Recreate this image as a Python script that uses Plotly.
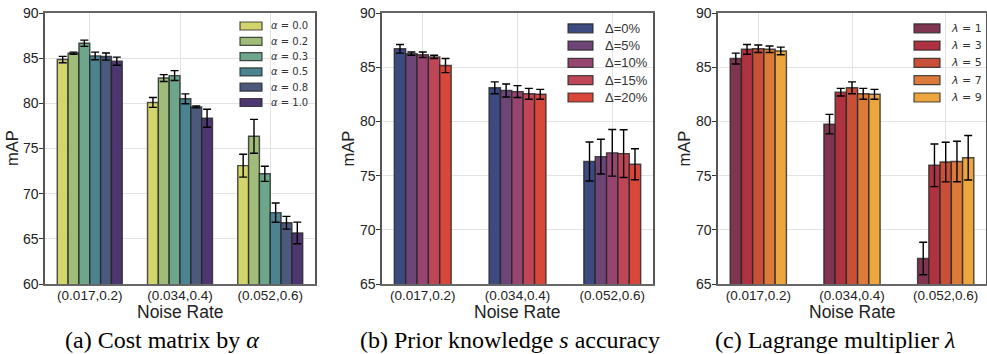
import plotly.graph_objects as go

# ---------------- data ----------------
categories = ["(0.017,0.2)", "(0.034,0.4)", "(0.052,0.6)"]

alpha_labels = ["0.0", "0.2", "0.3", "0.5", "0.8", "1.0"]
alpha_means = [
    [84.85, 80.1, 73.1],
    [85.55, 82.8, 76.35],
    [86.65, 83.07, 72.2],
    [85.25, 80.5, 67.9],
    [85.18, 79.6, 66.78],
    [84.67, 78.35, 65.65],
]
alpha_errs = [
    [0.35, 0.55, 1.27],
    [0.12, 0.38, 1.87],
    [0.35, 0.55, 0.84],
    [0.42, 0.55, 1.06],
    [0.4, 0.1, 0.71],
    [0.45, 1.0, 1.2],
]
alpha_colors = ["#d2d46c", "#9fbd78", "#6da68a", "#4b8391", "#4b5a7c", "#4e3670"]

delta_labels = ["0%", "5%", "10%", "15%", "20%"]
delta_means = [
    [86.7, 83.1, 76.3],
    [86.25, 82.85, 76.75],
    [86.15, 82.75, 77.1],
    [85.95, 82.55, 77.03],
    [85.15, 82.5, 76.05],
]
delta_errs = [
    [0.4, 0.55, 1.8],
    [0.15, 0.6, 1.6],
    [0.25, 0.55, 2.15],
    [0.15, 0.5, 2.2],
    [0.65, 0.45, 1.43],
]
delta_colors = ["#3d4a80", "#6d4677", "#964470", "#bf4656", "#d9473a"]

lambda_labels = ["1", "3", "5", "7", "9"]
lambda_means = [
    [85.8, 79.75, 67.35],
    [86.65, 82.7, 75.95],
    [86.7, 83.1, 76.25],
    [86.65, 82.55, 76.3],
    [86.5, 82.5, 76.65],
]
lambda_errs = [
    [0.5, 0.9, 1.5],
    [0.45, 0.35, 1.97],
    [0.35, 0.55, 1.83],
    [0.3, 0.5, 1.87],
    [0.35, 0.45, 2.05],
]
lambda_colors = ["#7f3550", "#ae3240", "#c84f38", "#dc7a3a", "#eca63e"]

# ---------------- layout helpers ----------------
W, H = 987, 354


def px(x):
    return x / W


def py(y):
    return 1 - y / H


SANS = "Liberation Sans, Arial, sans-serif"
SERIF = "Liberation Serif, Times New Roman, serif"
MATH = "DejaVu Sans, sans-serif"

panels = [
    dict(names=[f"<i>α</i> = {a}" for a in alpha_labels], means=alpha_means, errs=alpha_errs,
         colors=alpha_colors, dom=(45, 315), yr=(60, 90), xr=(-0.496, 2.496),
         leg=dict(sx=240, tx=269, y0=26, dy=15.3, font=MATH, size=10, sw=22, sh=8),
         ylab_x=11.5, caption="(a) Cost matrix by <i>α</i>", cap_x=162),
    dict(names=[f"Δ={d}" for d in delta_labels], means=delta_means, errs=delta_errs,
         colors=delta_colors, dom=(382, 653), yr=(65, 90), xr=(-0.43, 2.43),
         leg=dict(sx=568, tx=603, y0=28.3, dy=17.3, font=SANS, size=13, sw=25, sh=9),
         ylab_x=347, caption="(b) Prior knowledge <i>s</i> accuracy", cap_x=510),
    dict(names=[f"<i>λ</i> = {l}" for l in lambda_labels], means=lambda_means, errs=lambda_errs,
         colors=lambda_colors, dom=(718, 986), yr=(65, 90), xr=(-0.43, 2.43),
         leg=dict(sx=914, tx=949, y0=28.3, dy=17.3, font=MATH, size=11, sw=26, sh=9),
         ylab_x=683, caption="(c) Lagrange multiplier <i>λ</i>", cap_x=835),
]

BAR_W = 0.12
xpos = list(range(len(categories)))

fig = go.Figure()
shapes = []
annotations = []
ytop, ybot = 13, 284

for k, p in enumerate(panels):
    xa = "x" if k == 0 else f"x{k+1}"
    ya = "y" if k == 0 else f"y{k+1}"
    n = len(p["names"])
    for i in range(n):
        fig.add_trace(go.Bar(
            x=xpos, y=p["means"][i], name=p["names"][i],
            width=BAR_W, offset=-n * BAR_W / 2 + i * BAR_W,
            marker=dict(color=p["colors"][i], line=dict(color="rgba(35,35,35,0.8)", width=1.4)),
            error_y=dict(type="data", array=p["errs"][i], visible=True,
                         color="black", thickness=1.4, width=4),
            xaxis=xa, yaxis=ya, showlegend=False, hoverinfo="skip",
        ))
    axkey = "xaxis" if k == 0 else f"xaxis{k+1}"
    aykey = "yaxis" if k == 0 else f"yaxis{k+1}"
    fig.update_layout(**{
        axkey: dict(domain=[px(p["dom"][0]), px(p["dom"][1])], anchor=ya,
                    range=list(p["xr"]), tickvals=xpos, ticktext=categories,
                    showgrid=True, gridcolor="#e3e3e3", gridwidth=1,
                    showline=True, linecolor="#666", linewidth=2, mirror=True,
                    ticks="", tickfont=dict(family=SANS, size=13.5, color="#222"),
                    ticklabelstandoff=-2,
                    zeroline=False, fixedrange=True, automargin=False),
        aykey: dict(domain=[py(ybot), py(ytop)], anchor=xa,
                    range=list(p["yr"]), dtick=5, tick0=0,
                    showgrid=True, gridcolor="#e3e3e3", gridwidth=1,
                    showline=True, linecolor="#555", linewidth=1.6, mirror=True,
                    ticks="outside", ticklen=4, tickcolor="#333", tickwidth=1,
                    tickfont=dict(family=SANS, size=14, color="#222"),
                    ticklabelstandoff=-2,
                    zeroline=False, fixedrange=True, automargin=False),
    })
    # axis titles / captions
    cx = (p["dom"][0] + p["dom"][1]) / 2
    annotations.append(dict(text="Noise Rate", x=px(cx), y=py(312), xref="paper", yref="paper",
                            showarrow=False, xanchor="center", yanchor="middle",
                            font=dict(family=SANS, size=17.5, color="#222")))
    annotations.append(dict(text="mAP", x=px(p["ylab_x"]), y=py((ytop + ybot) / 2), xref="paper",
                            yref="paper", showarrow=False, textangle=-90,
                            xanchor="center", yanchor="middle",
                            font=dict(family=SANS, size=16.5, color="#222")))
    annotations.append(dict(text=p["caption"], x=px(p["cap_x"]), y=py(340), xref="paper",
                            yref="paper", showarrow=False, xanchor="center", yanchor="middle",
                            font=dict(family=SERIF, size=24, color="black")))
    # legend
    L = p["leg"]
    for i in range(n):
        yc = L["y0"] + i * L["dy"]
        shapes.append(dict(type="rect", xref="paper", yref="paper",
                           x0=px(L["sx"]), x1=px(L["sx"] + L["sw"]),
                           y0=py(yc + L["sh"] / 2), y1=py(yc - L["sh"] / 2),
                           fillcolor=p["colors"][i], line=dict(color="rgba(35,35,35,0.8)", width=1.2)))
        annotations.append(dict(text=p["names"][i], x=px(L["tx"]), y=py(yc), xref="paper",
                                yref="paper", showarrow=False, xanchor="left", yanchor="middle",
                                font=dict(family=L["font"], size=L["size"], color="#333")))

fig.update_layout(
    width=W, height=H, margin=dict(l=0, r=0, t=0, b=0, autoexpand=False),
    plot_bgcolor="white", paper_bgcolor="white",
    barmode="overlay", showlegend=False, hovermode=False,
    shapes=shapes, annotations=annotations,
)

fig.write_html("out.html", config={"displayModeBar": False, "staticPlot": True},
               post_script="document.body.style.margin='0px';")
